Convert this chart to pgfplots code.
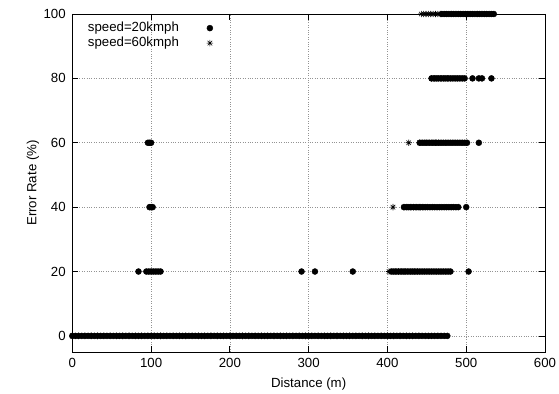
\documentclass[border=0pt]{standalone}
\usepackage{fontspec}
\setmainfont{Liberation Sans}
\usepackage{pgfplots}
\pgfplotsset{compat=1.18}
\pgfdeclareplotmark{gpstar}{%
 \pgfpathmoveto{\pgfqpoint{-\pgfplotmarksize}{0pt}}\pgfpathlineto{\pgfqpoint{\pgfplotmarksize}{0pt}}%
 \pgfpathmoveto{\pgfqpoint{0pt}{-\pgfplotmarksize}}\pgfpathlineto{\pgfqpoint{0pt}{\pgfplotmarksize}}%
 \pgfpathmoveto{\pgfqpoint{-.707\pgfplotmarksize}{-.707\pgfplotmarksize}}\pgfpathlineto{\pgfqpoint{.707\pgfplotmarksize}{.707\pgfplotmarksize}}%
 \pgfpathmoveto{\pgfqpoint{-.707\pgfplotmarksize}{.707\pgfplotmarksize}}\pgfpathlineto{\pgfqpoint{.707\pgfplotmarksize}{-.707\pgfplotmarksize}}%
 \pgfusepathqstroke}
\pgfplotsset{gpkey/.style={legend image code/.code={\path[draw=none,fill=none] (0bp,-3bp) -- (38bp,3bp); \draw[##1] plot coordinates {(30bp,0bp)};}}}
\begin{document}
\fontsize{13.3}{16}\selectfont
\begin{tikzpicture}
\path[use as bounding box] (-72.3bp,-42bp) rectangle (486.7bp,352bp);
\begin{axis}[
  at={(0,0)}, anchor=south west,
  scale only axis, width=472.7bp, height=338bp,
  xmin=0, xmax=600, ymin=-5, ymax=100,
  xtick={0,100,...,600}, ytick={0,20,...,100},
  minor tick num=0,
  tick align=inside, major tick length=5.6bp,
  tick style={black, line width=0.8bp},
  axis line style={black, line width=0.8bp},
  grid=major,
  major grid style={gray!85, line width=0.6bp, dash pattern=on 0.8bp off 1.6bp},
  /pgf/number format/assume math mode=true,
  xticklabel style={yshift=-2bp},
  yticklabel style={xshift=-2bp},
  xlabel={Distance (m)},
  ylabel={Error Rate (\%)},
  xlabel style={at={(axis description cs:0.5,-0.095)}, anchor=center},
  ylabel style={at={(axis description cs:-0.083,0.5)}, anchor=center},
  clip=false,
  legend plot pos=right,
  legend cell align=left,
  legend style={draw=none, fill=none, at={(axis description cs:0.0305,0.981)}, anchor=north west,
    inner sep=0pt, row sep=0pt, nodes={inner sep=1bp, text height=10bp, text depth=3bp}},
]
\addplot[only marks, mark=*, mark size=3bp, black, mark options={fill=black, draw=black}, gpkey] coordinates {
(0,0)(4,0)(8,0)(12,0)(16,0)(20,0)(24,0)(28,0)(32,0)(36,0)(40,0)(44,0)(48,0)(52,0)(56,0)(60,0)(64,0)(68,0)(72,0)(76,0)
(80,0)(84,0)(88,0)(92,0)(96,0)(100,0)(104,0)(108,0)(112,0)(116,0)(120,0)(124,0)(128,0)(132,0)(136,0)(140,0)(144,0)(148,0)(152,0)(156,0)
(160,0)(164,0)(168,0)(172,0)(176,0)(180,0)(184,0)(188,0)(192,0)(196,0)(200,0)(204,0)(208,0)(212,0)(216,0)(220,0)(224,0)(228,0)(232,0)(236,0)
(240,0)(244,0)(248,0)(252,0)(256,0)(260,0)(264,0)(268,0)(272,0)(276,0)(280,0)(284,0)(288,0)(292,0)(296,0)(300,0)(304,0)(308,0)(312,0)(316,0)
(320,0)(324,0)(328,0)(332,0)(336,0)(340,0)(344,0)(348,0)(352,0)(356,0)(360,0)(364,0)(368,0)(372,0)(376,0)(380,0)(384,0)(388,0)(392,0)(396,0)
(400,0)(404,0)(408,0)(412,0)(416,0)(420,0)(424,0)(428,0)(432,0)(436,0)(440,0)(444,0)(448,0)(452,0)(456,0)(460,0)(464,0)(468,0)(472,0)(476,0)
(84,20)(94,20)(97,20)(100,20)(103,20)(106,20)(109,20)(112,20)(291,20)(308,20)(356,20)
(405,20)(408,20)(411,20)(414,20)(417,20)(420,20)(423,20)(426,20)(429,20)(432,20)(435,20)(438,20)(441,20)(444,20)(447,20)(450,20)
(453,20)(456,20)(459,20)(462,20)(465,20)(468,20)(471,20)(474,20)(477,20)(480,20)(503,20)
(98,40)(100,40)(102,40)
(421,40)(424,40)(427,40)(430,40)(433,40)(436,40)(439,40)(442,40)(445,40)(448,40)(451,40)(454,40)(457,40)(460,40)(463,40)(466,40)
(469,40)(472,40)(475,40)(478,40)(481,40)(484,40)(487,40)(490,40)(500,40)
(96,60)(98,60)(100,60)
(441,60)(444,60)(447,60)(450,60)(453,60)(456,60)(459,60)(462,60)(465,60)(468,60)(471,60)(474,60)(477,60)(480,60)(483,60)(486,60)
(489,60)(492,60)(495,60)(498,60)(501,60)(516,60)
(456,80)(459,80)(462,80)(465,80)(468,80)(471,80)(474,80)(477,80)(480,80)(483,80)(486,80)(489,80)(492,80)(495,80)(498,80)
(508,80)(516,80)(520,80)(532,80)
(469,100)(472,100)(475,100)(478,100)(481,100)(484,100)(487,100)(490,100)(493,100)(496,100)(499,100)(502,100)(505,100)(508,100)
(511,100)(514,100)(517,100)(520,100)(523,100)(526,100)(529,100)(532,100)(535,100)
};
\addlegendentry{speed=20kmph}
\addplot[only marks, mark=gpstar, mark size=3.2bp, black, line width=0.6bp, gpkey] coordinates {
(0,0)(8,0)(16,0)(24,0)(32,0)(40,0)(48,0)(56,0)(64,0)(72,0)(80,0)(88,0)(96,0)(104,0)(112,0)(120,0)(128,0)(136,0)(144,0)(152,0)
(160,0)(168,0)(176,0)(184,0)(192,0)(200,0)(208,0)(216,0)(224,0)(232,0)(240,0)(248,0)(256,0)(264,0)(272,0)(280,0)(288,0)(296,0)
(304,0)(312,0)(320,0)(328,0)(336,0)(344,0)(352,0)(360,0)(368,0)(376,0)(384,0)(392,0)(400,0)(408,0)(416,0)(424,0)(432,0)(440,0)
(402,20)(406,20)(410,20)(414,20)(418,20)(422,20)(426,20)(430,20)(434,20)(438,20)
(407,40)(421,40)(425,40)(429,40)(433,40)(437,40)(441,40)(445,40)
(427,60)(441,60)(445,60)(449,60)(453,60)(457,60)(461,60)(465,60)
(456,80)(460,80)(464,80)(468,80)(472,80)(476,80)
(443,100)(446,100)(449,100)(452,100)(455,100)(458,100)(461,100)(464,100)(467,100)
};
\addlegendentry{speed=60kmph}
\end{axis}
\end{tikzpicture}
\end{document}
